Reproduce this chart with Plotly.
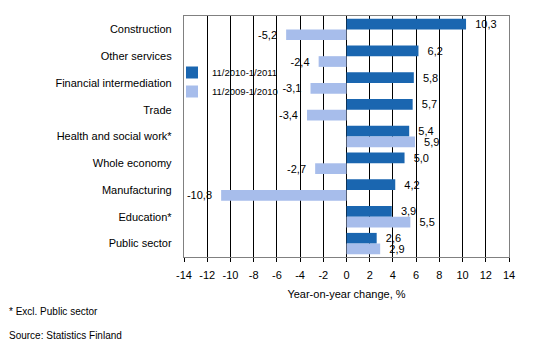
import plotly.graph_objects as go

categories = ["Construction", "Other services", "Financial intermediation", "Trade",
              "Health and social work*", "Whole economy", "Manufacturing", "Education*",
              "Public sector"]
series_2011 = [10.3, 6.2, 5.8, 5.7, 5.4, 5.0, 4.2, 3.9, 2.6]
series_2010 = [-5.2, -2.4, -3.1, -3.4, 5.9, -2.7, -10.8, 5.5, 2.9]
name_2011 = "11/2010-1/2011"
name_2010 = "11/2009-1/2010"
tick_vals = list(range(-14, 15, 2))

def fmt(v):
    s = f"{v:.1f}".replace(".", ",")
    pad = "\u00a0\u00a0"
    return s + pad if v < 0 else pad + s

font = "Liberation Sans, Arial, sans-serif"

fig = go.Figure()
fig.add_trace(go.Bar(y=categories, x=series_2011, orientation="h", name=name_2011,
                     marker=dict(color="#1A66B0", line=dict(width=0)),
                     text=[fmt(v) for v in series_2011], textposition="outside",
                     constraintext="none",
                     textfont=dict(size=11, color="black", family=font), cliponaxis=False))
fig.add_trace(go.Bar(y=categories, x=series_2010, orientation="h", name=name_2010,
                     marker=dict(color="#A7BDEB", line=dict(width=0)),
                     text=[fmt(v) for v in series_2010], textposition="outside",
                     constraintext="none",
                     textfont=dict(size=11, color="black", family=font), cliponaxis=False))

W = 325.0
H = 241.0

fig.update_layout(
    width=540, height=358,
    margin=dict(l=184, r=31, t=16, b=101, autoexpand=False),
    paper_bgcolor="white", plot_bgcolor="white",
    barmode="group", bargap=0.2, bargroupgap=0,
    font=dict(family=font, size=11, color="black"),
    showlegend=True,
    legend=dict(x=-12 / W, y=(257 - 58) / H, xanchor="left", yanchor="top",
                bgcolor="rgba(0,0,0,0)", borderwidth=0,
                font=dict(size=9.5, family=font), itemwidth=30),
    xaxis=dict(range=[-14, 14], tickvals=tick_vals, ticktext=[str(v) for v in tick_vals],
               showgrid=True, gridcolor="black", gridwidth=1,
               zeroline=True, zerolinecolor="black", zerolinewidth=1,
               showline=True, linecolor="#808080", mirror=True,
               ticks="outside", ticklen=4, tickcolor="black", automargin=False,
               tickfont=dict(size=11), ticklabelstandoff=4,
               title=dict(text="Year-on-year change, %", font=dict(size=11), standoff=10)),
    yaxis=dict(autorange="reversed", showgrid=False, showline=True, linecolor="#808080",
               mirror=True, ticks="", tickfont=dict(size=11), ticksuffix="   ",
               automargin=False),
    shapes=[
        dict(type="rect", xref="paper", yref="paper", layer="between",
             x0=2 / W, x1=(272 - 184) / W, y0=(257 - 96) / H, y1=(257 - 63) / H,
             fillcolor="white", line=dict(width=0)),
    ],
    annotations=[
        dict(text="* Excl. Public sector", xref="paper", yref="paper", x=-177 / W,
             y=-(311 - 257) / H, xanchor="left", yanchor="middle", showarrow=False,
             font=dict(size=10)),
        dict(text="Source: Statistics Finland", xref="paper", yref="paper", x=-177 / W,
             y=-(335 - 257) / H, xanchor="left", yanchor="middle", showarrow=False,
             font=dict(size=10)),
    ],
)

fig.write_html("out.html", config={"displayModeBar": False},
               post_script="document.body.style.margin='0';document.body.style.overflow='hidden';")
